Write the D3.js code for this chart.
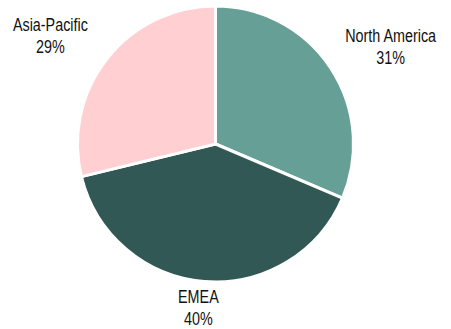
<!DOCTYPE html>
<html>
<head>
<meta charset="utf-8">
<script src="https://cdn.jsdelivr.net/npm/d3@7"></script>
<style>
	body { margin: 0; background: #fff; }
	text { font-family: "Liberation Sans", Arial, sans-serif; font-size: 17.5px; fill: #111; }
</style>
</head>
<body>
<svg width="451" height="329"></svg>
<script>
// regions, clockwise from 12 o'clock
const regions = ['North America', 'EMEA', 'Asia-Pacific'];
const shares = [31.4, 39.8, 28.8];
const colors = ['#669f95', '#325856', '#ffcfd2'];

const CENTER = { x: 215.5, y: 144 };
const RADIUS = 138;
// labels ride on an ellipse around the pie (wider than tall, text is wide)
const LABEL_RX = 210;
const LABEL_RY = 169;
const LABEL_DY = -4;
const NARROW = 0.82; // squeeze the font, the original looks like Arial Narrow

const svg = d3.select('svg');
const g = svg.append('g')
	.attr('transform', 'translate(' + CENTER.x + ' ' + CENTER.y + ')');

const pie = d3.pie().sort(null).value(d => d.value);
const arc = d3.arc().innerRadius(0).outerRadius(RADIUS);

const data = regions.map((r, i) => ({ name: r, value: shares[i], color: colors[i] }));
const arcs = pie(data);
const total = d3.sum(shares);

g.selectAll('.slice')
	.data(arcs)
	.enter()
	.append('path')
	.attr('class', 'slice')
	.attr('d', arc)
	.attr('fill', d => d.data.color)
	.attr('stroke', '#fff')
	.attr('stroke-width', 3)
	.attr('stroke-linejoin', 'round');

const labels = g.selectAll('.label')
	.data(arcs)
	.enter()
	.append('text')
	.attr('class', 'label')
	.attr('text-anchor', 'middle')
	.attr('transform', d => {
		const a = (d.startAngle + d.endAngle) / 2;
		const x = LABEL_RX * Math.sin(a);
		const y = LABEL_DY - LABEL_RY * Math.cos(a);
		return 'translate(' + x + ' ' + y + ') scale(' + NARROW + ' 1)';
	});

labels.append('tspan')
	.attr('x', 0)
	.attr('y', -5)
	.text(d => d.data.name);
labels.append('tspan')
	.attr('x', 0)
	.attr('y', 17)
	.text(d => Math.round(d.data.value / total * 100) + '%');
</script>
</body>
</html>
